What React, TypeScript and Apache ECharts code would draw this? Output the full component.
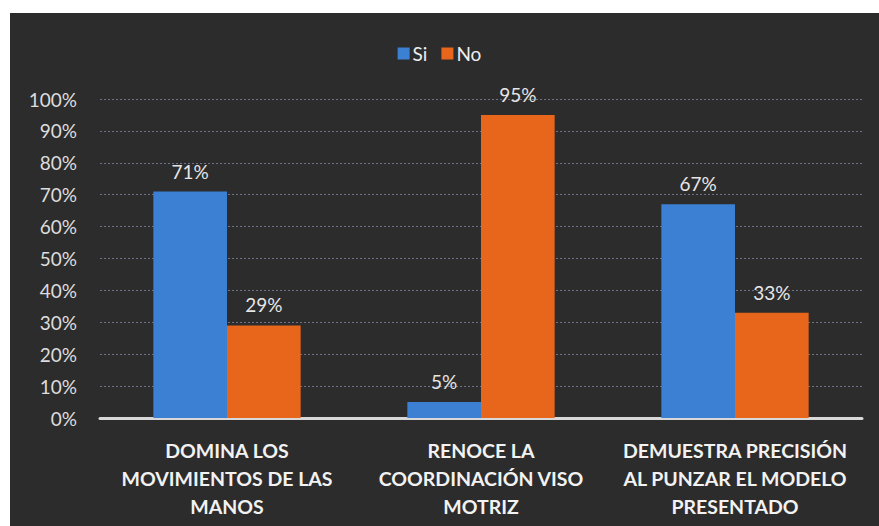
import React, { useEffect, useRef } from "react";
import * as echarts from "echarts";

const categories = [
  "DOMINA LOS\nMOVIMIENTOS DE LAS\nMANOS",
  "RENOCE LA\nCOORDINACIÓN VISO\nMOTRIZ",
  "DEMUESTRA PRECISIÓN\nAL PUNZAR EL MODELO\nPRESENTADO",
];
const siValues = [71, 5, 67];
const noValues = [29, 95, 33];
const seriesNames = ["Si", "No"];

export default function App() {
  const ref = useRef<HTMLDivElement>(null);
  useEffect(() => {
    if (!ref.current) return;
    const chart = echarts.init(ref.current, null, { renderer: "svg" });
    const font = "Lato, 'Open Sans', sans-serif";
    const label = {
      show: true,
      position: "top",
      distance: 11,
      color: "#e6e6e6",
      fontSize: 19,
      fontFamily: font,
      formatter: (p: any) => p.value + "%",
    };
    chart.setOption({
      animation: false,
      backgroundColor: "#ffffff",
      graphic: [
        {
          type: "rect",
          z: -10,
          silent: true,
          shape: { x: 10, y: 13, width: 869, height: 513 },
          style: { fill: "#2d2c2c" },
        },
      ],
      legend: {
        data: seriesNames,
        top: 39,
        left: "center",
        itemWidth: 12,
        itemHeight: 12,
        itemGap: 14,
        icon: "rect",
        textStyle: { color: "#eeeeee", fontSize: 19, fontFamily: font, padding: [0, 0, 0, -2] },
      },
      grid: { left: 100, right: 17, top: 99, bottom: 108, containLabel: false },
      xAxis: {
        type: "category",
        data: categories,
        axisLine: { show: true, lineStyle: { color: "#d8d8d8", width: 3 } },
        axisTick: { show: false },
        axisLabel: {
          color: "#f2f2f2",
          fontSize: 19.5,
          fontWeight: "bold",
          fontFamily: font,
          lineHeight: 28,
          margin: 18,
          interval: 0,
        },
      },
      yAxis: {
        type: "value",
        min: 0,
        max: 100,
        interval: 10,
        axisLine: { show: false },
        axisTick: { show: false },
        axisLabel: {
          color: "#dddddd",
          fontSize: 19,
          fontFamily: font,
          margin: 23,
          formatter: (v: number) => v + "%",
        },
        splitLine: {
          show: true,
          lineStyle: { color: "#8a8fb0", type: [2, 2], width: 1, opacity: 0.7 },
        },
      },
      series: [
        {
          name: seriesNames[0],
          type: "bar",
          data: siValues,
          barGap: "0%",
          barCategoryGap: "42%",
          itemStyle: { color: "#3b80d2" },
          label,
        },
        {
          name: seriesNames[1],
          type: "bar",
          data: noValues,
          barGap: "0%",
          barCategoryGap: "42%",
          itemStyle: { color: "#e8661c" },
          label,
        },
      ],
    });
    return () => chart.dispose();
  }, []);
  return (
    <div
      ref={ref}
      style={{ position: "fixed", left: 0, top: 0, width: 879, height: 526 }}
    />
  );
}
